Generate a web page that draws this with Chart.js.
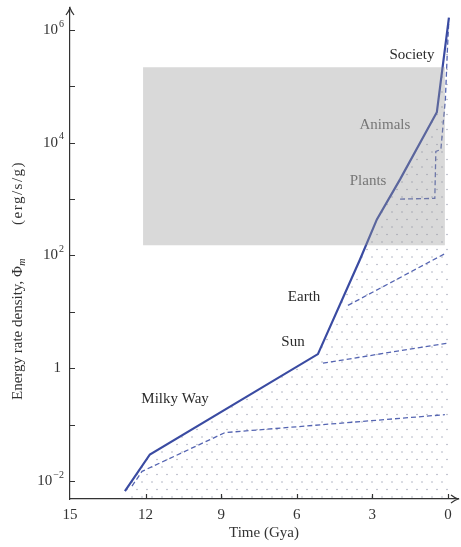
<!DOCTYPE html>
<html>
<head>
<meta charset="utf-8">
<script src="https://cdn.jsdelivr.net/npm/chart.js@4.4.1/dist/chart.umd.min.js"></script>
<style>
  html, body { margin: 0; padding: 0; background: #fff; }
</style>
</head>
<body>
<canvas id="chart" width="461" height="547"></canvas>
<script>
// energy rate density through cosmic time (Gya), values in erg/s/g
var solidTime = [12.82, 11.83, 5.16, 3.49, 2.82, 1.9, 0.44, -0.04];
var solidRate = [0.0066, 0.0295, 1.78, 85, 437, 2240, 34700, 1.65e6];

var galaxyTime = [12.54, 12.14, 8.85, 0.12];
var galaxyRate = [0.0081, 0.0148, 0.072, 0.15];

var starTime = [4.96, 0.04];
var starRate = [1.23, 2.78];

var planetTime = [3.97, 0.08];
var planetRate = [13, 110];

var plantTime = [1.9, 0.52, 0.48, 0.28, 0.1, 0.02, -0.03];
var plantRate = [1000, 1030, 7000, 7600, 60000, 450000, 1.3e6];

var boxTime = [12.1, 0.12];
var boxTop = 218000;
var boxBottom = 152;

var labelNames = ["Milky Way", "Sun", "Earth", "Plants", "Animals", "Society"];
var labelTime = [10.83, 6.15, 5.71, 3.17, 2.5, 1.43];
var labelRate = [0.28, 2.9, 18, 2080, 20400, 355000];

var xTicks = [15, 12, 9, 6, 3, 0];
var yTicks = [0.01, 0.1, 1, 10, 100, 1000, 10000, 100000, 1000000];
var yTickExp = [-2, null, 0, null, 2, null, 4, null, 6];

function pts(xs, ys) {
  var out = [];
  for (var i = 0; i < xs.length; i++) out.push({x: xs[i], y: ys[i]});
  return out;
}

function dotPattern() {
  var p = document.createElement('canvas');
  p.width = 10; p.height = 15;
  var g = p.getContext('2d');
  g.fillStyle = '#a4a7ba';
  g.beginPath(); g.arc(2, 2, 0.75, 0, Math.PI * 2); g.fill();
  g.beginPath(); g.arc(7, 9.5, 0.75, 0, Math.PI * 2); g.fill();
  return g.createPattern(p, 'repeat');
}

var serif = '"Liberation Serif", "DejaVu Serif", serif';
var ink = '#333';
var blue = '#3a4ba2';
var dashBlue = '#5565b2';

var extras = {
  id: 'extras',
  afterDraw: function (chart) {
    var ctx = chart.ctx;
    var xs = chart.scales.x, ys = chart.scales.y;
    var area = chart.chartArea;
    ctx.save();
    ctx.strokeStyle = ink;
    ctx.lineWidth = 1.2;
    // ticks pointing inward
    ctx.beginPath();
    yTicks.forEach(function (v) {
      var py = Math.round(ys.getPixelForValue(v)) + 0.5;
      ctx.moveTo(area.left, py); ctx.lineTo(area.left + 5, py);
    });
    xTicks.forEach(function (v) {
      if (v === 15) return;
      var px = Math.round(xs.getPixelForValue(v)) + 0.5;
      ctx.moveTo(px, area.bottom); ctx.lineTo(px, area.bottom - 5);
    });
    ctx.stroke();
    // arrow heads
    ctx.beginPath();
    ctx.moveTo(area.left - 4, area.top + 7);
    ctx.quadraticCurveTo(area.left - 1, area.top + 3, area.left, area.top);
    ctx.quadraticCurveTo(area.left + 1, area.top + 3, area.left + 4, area.top + 7);
    ctx.moveTo(area.right - 7, area.bottom - 4);
    ctx.quadraticCurveTo(area.right - 3, area.bottom - 1, area.right, area.bottom);
    ctx.quadraticCurveTo(area.right - 3, area.bottom + 1, area.right - 7, area.bottom + 4);
    ctx.stroke();

    // y tick labels with real superscripts
    ctx.fillStyle = ink;
    ctx.textBaseline = 'middle';
    ctx.textAlign = 'right';
    var right = area.left - 6;
    yTicks.forEach(function (v, i) {
      var e = yTickExp[i];
      if (e === null) return;
      var py = ys.getPixelForValue(v);
      if (e === 0) {
        ctx.font = '15px ' + serif;
        ctx.fillText('1', right - 3, py);
        return;
      }
      var sup = e < 0 ? '\u2212' + (-e) : String(e);
      ctx.font = '10px ' + serif;
      var ws = ctx.measureText(sup).width;
      ctx.fillText(sup, right, py - 6);
      ctx.font = '15px ' + serif;
      ctx.fillText('10', right - ws - 1, py);
    });

    // annotations
    ctx.textAlign = 'center';
    ctx.textBaseline = 'middle';
    ctx.font = '15px ' + serif;
    for (var i = 0; i < labelNames.length; i++) {
      ctx.fillStyle = (labelNames[i] === 'Plants' || labelNames[i] === 'Animals') ? '#777' : '#2b2b2b';
      ctx.fillText(labelNames[i], xs.getPixelForValue(labelTime[i]), ys.getPixelForValue(labelRate[i]));
    }

    // y axis title with subscript, starting low and reading upward
    ctx.fillStyle = ink;
    ctx.translate(18, 400);
    ctx.rotate(-Math.PI / 2);
    ctx.textAlign = 'left';
    var a = 'Energy rate density, \u03A6', b = 'm', c = '(erg/s/g)';
    ctx.font = '15px ' + serif;
    var wa = ctx.measureText(a).width;
    ctx.fillText(a, 0, 0);
    ctx.font = 'italic 10px ' + serif;
    var wb = ctx.measureText(b).width;
    ctx.fillText(b, wa + 0.5, 4);
    ctx.font = '15px ' + serif;
    ctx.letterSpacing = '1.5px';
    ctx.fillText(c, wa + wb + 34, 0);
    ctx.restore();
  }
};

new Chart(document.getElementById('chart'), {
  type: 'line',
  data: {
    datasets: [
      {
        label: 'energy rate density',
        data: pts(solidTime, solidRate),
        borderColor: blue,
        borderWidth: 2.2,
        pointRadius: 0,
        fill: false,
        tension: 0,
        order: 1
      },
      {
        label: 'galaxies',
        data: pts(galaxyTime, galaxyRate),
        borderColor: dashBlue, borderWidth: 1.3, borderDash: [5, 3],
        pointRadius: 0, fill: false, order: 2
      },
      {
        label: 'stars',
        data: pts(starTime, starRate),
        borderColor: dashBlue, borderWidth: 1.3, borderDash: [5, 3],
        pointRadius: 0, fill: false, order: 2
      },
      {
        label: 'planets',
        data: pts(planetTime, planetRate),
        borderColor: dashBlue, borderWidth: 1.3, borderDash: [5, 3],
        pointRadius: 0, fill: false, order: 2
      },
      {
        label: 'life',
        data: pts(plantTime, plantRate),
        borderColor: dashBlue, borderWidth: 1.3, borderDash: [5, 3],
        pointRadius: 0, fill: false, order: 2
      },
      {
        label: 'dots',
        data: pts(solidTime, solidRate),
        borderWidth: 0,
        borderColor: 'rgba(0,0,0,0)',
        backgroundColor: dotPattern(),
        pointRadius: 0,
        fill: 'start',
        order: 3
      },
      {
        // translucent grey band laid over the curves, as in the original
        label: 'box',
        data: pts(boxTime, [boxTop, boxTop]),
        borderWidth: 0,
        borderColor: 'rgba(0,0,0,0)',
        backgroundColor: 'rgba(150,150,150,0.36)',
        pointRadius: 0,
        fill: {value: boxBottom},
        order: 0
      }
    ]
  },
  options: {
    responsive: false,
    animation: false,
    devicePixelRatio: 1,
    layout: { padding: { top: 8, right: 3, left: 0, bottom: 0 } },
    plugins: {
      legend: { display: false },
      tooltip: { enabled: false },
      filler: { propagate: false, drawTime: 'beforeDatasetDraw' }
    },
    scales: {
      x: {
        type: 'linear',
        reverse: true,
        min: -0.4,
        max: 15,
        afterBuildTicks: function (scale) {
          scale.ticks = xTicks.map(function (v) { return {value: v}; });
        },
        afterFit: function (scale) { scale.height = 48; },
        grid: { display: false, drawTicks: false },
        border: { display: true, color: ink, width: 1.2 },
        ticks: { color: ink, padding: 7, maxRotation: 0, font: { family: serif, size: 15 } },
        title: { display: true, text: 'Time (Gya)', color: ink, padding: { top: 2, bottom: 5 }, font: { family: serif, size: 15 } }
      },
      y: {
        type: 'logarithmic',
        min: Math.pow(10, -2.32),
        max: Math.pow(10, 6.39),
        afterBuildTicks: function (scale) {
          scale.ticks = yTicks.map(function (v) { return {value: v}; });
        },
        afterFit: function (scale) { scale.width = 70; },
        grid: { display: false, drawTicks: false },
        border: { display: true, color: ink, width: 1.2 },
        ticks: { display: false }
      }
    }
  },
  plugins: [extras]
});
</script>
</body>
</html>
